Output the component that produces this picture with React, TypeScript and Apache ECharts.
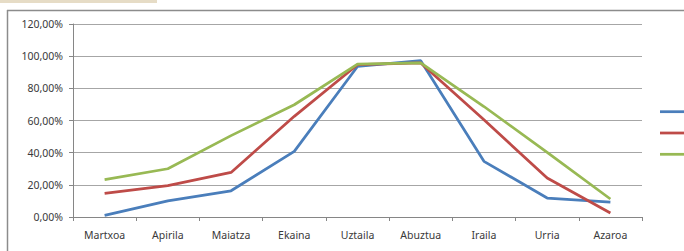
import React, { useEffect, useRef } from "react";
import * as echarts from "echarts";

const categories = ["Martxoa", "Apirila", "Maiatza", "Ekaina", "Uztaila", "Abuztua", "Iraila", "Urria", "Azaroa"];
const seriesNames = ["1", "2", "3"];
const blueValues = [0.01, 0.10, 0.163, 0.408, 0.936, 0.972, 0.346, 0.118, 0.093];
const redValues = [0.147, 0.195, 0.277, 0.626, 0.947, 0.958, 0.605, 0.242, 0.025];
const greenValues = [0.232, 0.30, 0.506, 0.698, 0.951, 0.958, 0.687, 0.402, 0.112];
const seriesColors = ["#4a7ebb", "#be4b48", "#98b954"];
const yTicks = [0, 0.2, 0.4, 0.6, 0.8, 1.0, 1.2];

export default function App() {
  const ref = useRef<HTMLDivElement>(null);
  useEffect(() => {
    if (!ref.current) return;
    const chart = echarts.init(ref.current, undefined, { renderer: "svg" });
    const font = "Noto Sans, DejaVu Sans, sans-serif";
    const values = [blueValues, redValues, greenValues];
    chart.setOption({
      animation: false,
      backgroundColor: "#ffffff",
      grid: { left: 73, top: 24, right: 42, bottom: 34 },
      xAxis: {
        type: "category",
        data: categories,
        boundaryGap: true,
        axisLine: { show: true, lineStyle: { color: "#868686", width: 1 } },
        axisTick: { show: true, inside: false, length: 4, alignWithLabel: false, lineStyle: { color: "#868686" } },
        axisLabel: { margin: 12, fontFamily: font, fontSize: 10.5, color: "#3a3a3a" },
        splitLine: { show: false },
      },
      yAxis: {
        type: "value",
        min: 0,
        max: 1.2,
        interval: 0.2,
        axisLine: { show: true, lineStyle: { color: "#868686", width: 1 } },
        axisTick: { show: true, inside: false, length: 4, lineStyle: { color: "#868686" } },
        axisLabel: {
          margin: 10,
          fontFamily: font,
          fontSize: 10.5,
          color: "#3a3a3a",
          formatter: (v: number) => {
            const t = yTicks.find((x) => Math.abs(x - v) < 1e-9);
            return ((t ?? v) * 100).toFixed(2).replace(".", ",") + "%";
          },
        },
        splitLine: { show: true, lineStyle: { color: "#a6a6a6", width: 1 } },
      },
      series: values.map((d, i) => ({
        name: seriesNames[i],
        type: "line",
        data: d,
        symbol: "none",
        lineStyle: { color: seriesColors[i], width: 2.75 },
        itemStyle: { color: seriesColors[i] },
        z: 3 + i,
      })),
      graphic: [
        { type: "rect", shape: { x: 0, y: 0, width: 157, height: 3 }, style: { fill: "#e6dcc6" }, silent: true },
        { type: "line", shape: { x1: 7, y1: 10.5, x2: 690, y2: 10.5 }, style: { stroke: "#8c8c8c", lineWidth: 1.5 }, silent: true },
        { type: "line", shape: { x1: 7.5, y1: 10, x2: 7.5, y2: 260 }, style: { stroke: "#8c8c8c", lineWidth: 1.5 }, silent: true },
        ...seriesColors.map((c, i) => ({
          type: "line",
          shape: { x1: 660, y1: 111.7 + i * 21.3, x2: 690, y2: 111.7 + i * 21.3 },
          style: { stroke: c, lineWidth: 2.75 },
          silent: true,
        })),
      ],
    });
    return () => chart.dispose();
  }, []);
  return (
    <div
      ref={ref}
      style={{ position: "fixed", left: 0, top: 0, width: 684, height: 251 }}
    />
  );
}
